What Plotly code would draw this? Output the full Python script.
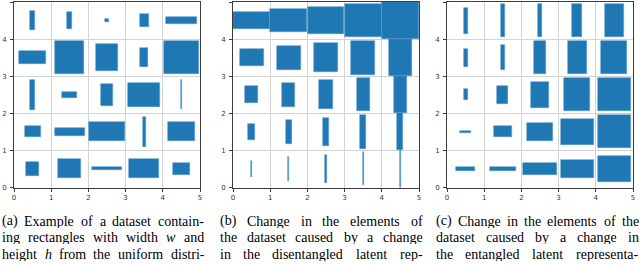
import plotly.graph_objects as go

# cell indices along each axis
cells = [0, 1, 2, 3, 4]
ticks = [0, 1, 2, 3, 4, 5]

# Widths/heights of rectangles; outer list = row (y cell, bottom to top), inner = column (x cell)
a_w = [[0.36, 0.61, 0.80, 0.82, 0.45],
       [0.43, 0.80, 0.96, 0.08, 0.73],
       [0.15, 0.41, 0.32, 0.86, 0.03],
       [0.71, 0.78, 0.60, 0.21, 0.94],
       [0.12, 0.13, 0.10, 0.25, 0.83]]
a_h = [[0.38, 0.51, 0.08, 0.51, 0.31],
       [0.29, 0.20, 0.51, 0.80, 0.51],
       [0.80, 0.17, 0.58, 0.66, 0.78],
       [0.36, 0.90, 0.71, 0.51, 0.88],
       [0.49, 0.46, 0.06, 0.33, 0.20]]

b_w = [[0.035, 0.035, 0.03, 0.035, 0.035],
       [0.17, 0.15, 0.15, 0.17, 0.16],
       [0.34, 0.35, 0.36, 0.34, 0.36],
       [0.65, 0.66, 0.64, 0.66, 0.63],
       [0.99, 0.99, 0.99, 0.99, 1.00]]
b_h = [[0.43, 0.64, 0.77, 0.89, 1.00],
       [0.45, 0.63, 0.77, 0.90, 1.00],
       [0.45, 0.65, 0.79, 0.88, 0.99],
       [0.44, 0.64, 0.77, 0.91, 0.99],
       [0.44, 0.63, 0.75, 0.89, 0.99]]

c_w = [[0.51, 0.71, 0.89, 0.88, 0.89],
       [0.30, 0.49, 0.69, 0.88, 0.89],
       [0.11, 0.29, 0.49, 0.71, 0.89],
       [0.11, 0.10, 0.30, 0.50, 0.70],
       [0.11, 0.10, 0.09, 0.27, 0.49]]
c_h = [[0.10, 0.10, 0.30, 0.50, 0.71],
       [0.07, 0.29, 0.50, 0.69, 0.89],
       [0.30, 0.48, 0.69, 0.88, 0.88],
       [0.48, 0.69, 0.90, 0.90, 0.90],
       [0.70, 0.90, 0.90, 0.89, 0.89]]

captions = [
    ["(a) Example of a dataset contain-",
     "ing rectangles with width <i>w</i> and",
     "height <i>h</i> from the uniform distri-"],
    ["(b) Change in the elements of",
     "the dataset caused by a change",
     "in the disentangled latent rep-"],
    ["(c) Change in the elements of the",
     "dataset caused by a change in",
     "the entangled latent representa-"],
]

W, H = 640, 265
x_domains = [(14, 200), (233, 419), (447, 633)]
y_top, y_bot = 2, 187.5

fig = go.Figure()
panels = [(a_w, a_h), (b_w, b_h), (c_w, c_h)]
for k, (pw, ph) in enumerate(panels):
    xs, ws, bases, hs = [], [], [], []
    for r in cells:
        for c in cells:
            xs.append(c + 0.5)
            ws.append(pw[r][c])
            hs.append(ph[r][c])
            bases.append(r + 0.5 - ph[r][c] / 2)
    suffix = "" if k == 0 else str(k + 1)
    fig.add_trace(go.Bar(x=xs, y=hs, base=bases, width=ws,
                         marker=dict(color="#1f77b4", line=dict(color="#5d9bcf", width=0.6)),
                         xaxis="x" + suffix, yaxis="y" + suffix, showlegend=False))
    ax = dict(range=[0, 5], tickvals=ticks, showgrid=True, gridcolor="#d3d3d3", gridwidth=1,
              zeroline=False, showline=True, mirror=True, linecolor="#3c3c3c", linewidth=1,
              ticks="outside", ticklen=3, tickcolor="#3c3c3c", tickwidth=0.8,
              tickfont=dict(family="DejaVu Sans", size=7, color="#333333"),
              fixedrange=True, automargin=False)
    x0, x1 = x_domains[k]
    fig.update_layout(**{
        "xaxis" + suffix: dict(ax, domain=[x0 / W, x1 / W], anchor="y" + suffix),
        "yaxis" + suffix: dict(ax, domain=[1 - y_bot / H, 1 - y_top / H], anchor="x" + suffix,
                               ticklabelstandoff=2),
    })

# Approximate Times (Liberation Serif) advance widths, per 1000 em, for justification
adv = {c: 500 for c in "abdghknopquvxy"}
adv.update({"a": 444, "c": 444, "e": 444, "z": 444, "f": 333, "r": 333, "i": 278, "j": 278,
            "l": 278, "t": 278, "m": 778, "s": 389, "w": 722, "(": 333, ")": 333, "-": 333,
            "E": 611, "C": 667})

def word_width(word, size):
    plain = word.replace("<i>", "").replace("</i>", "")
    return sum(adv.get(ch, 500) for ch in plain) * size / 1000.0 * 1.02

cap_cols = [(1, 204), (219, 422), (435, 638)]
line_y = [220.5, 237, 253.5]
cap_size = 14
for k in range(3):
    left, right = cap_cols[k]
    for i, line in enumerate(captions[k]):
        words = line.split(" ")
        widths = [word_width(wd, cap_size) for wd in words]
        gap = (right - left - sum(widths)) / (len(words) - 1)
        xpos = left
        for wd, wdw in zip(words, widths):
            fig.add_annotation(text=wd, xref="paper", yref="paper", x=xpos / W,
                               y=1 - line_y[i] / H, xanchor="left", yanchor="middle",
                               showarrow=False, borderpad=0, height=14,
                               font=dict(family="Liberation Serif", size=cap_size, color="#000000"))
            xpos += wdw + gap

fig.update_layout(width=W, height=H, margin=dict(l=0, r=0, t=0, b=0),
                  paper_bgcolor="white", plot_bgcolor="white", barmode="overlay",
                  bargap=0)
fig.write_html("out.html", config={"displayModeBar": False},
               post_script="document.body.style.margin='0px';document.body.style.overflow='hidden';")
